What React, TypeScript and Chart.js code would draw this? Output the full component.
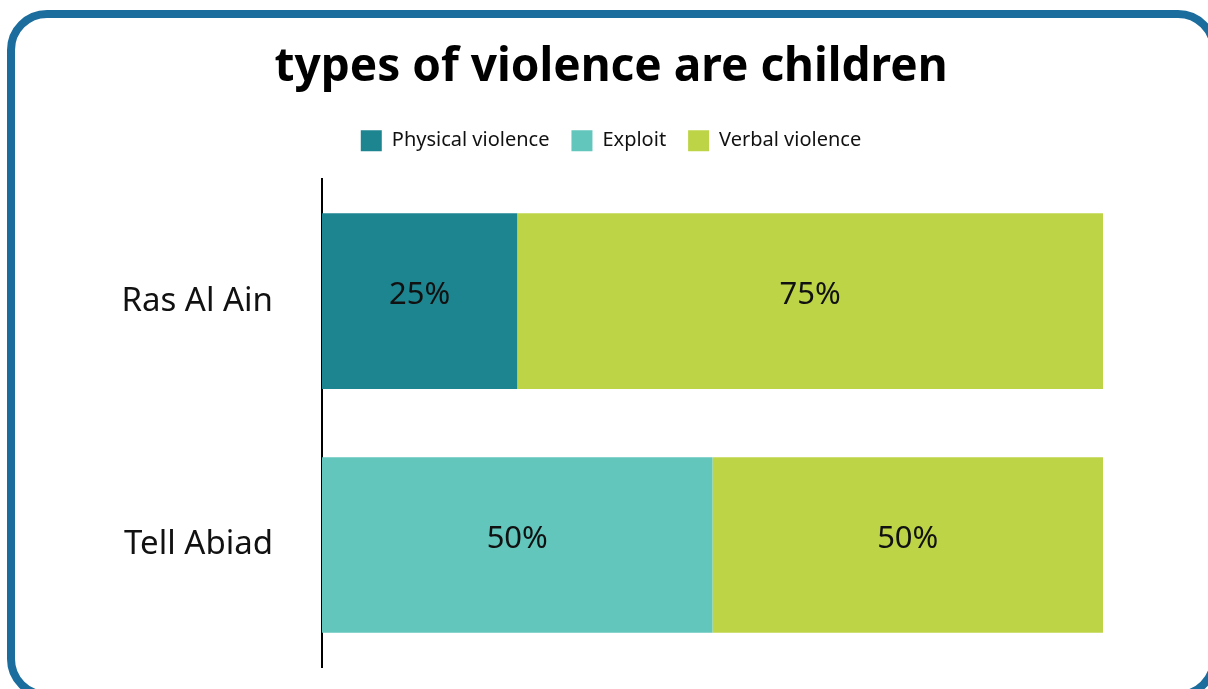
import React, { useEffect, useRef } from "react";
import { Chart, registerables } from "chart.js";

Chart.register(...registerables);

const categories = ["Ras Al Ain", "Tell Abiad"];
const seriesNames = ["Physical violence", "Exploit", "Verbal violence"];
const physical = [25, 0];
const exploit = [0, 50];
const verbal = [75, 50];
const colors = ["#1d8590", "#62c6bd", "#bed447"];
const titleText = "types of violence are children";
const FONT = "'Noto Sans', sans-serif";

const labelPlugin = {
  id: "barLabels",
  afterDatasetsDraw(chart: any) {
    const ctx = chart.ctx;
    ctx.save();
    ctx.font = `31px ${FONT}`;
    ctx.fillStyle = "#111";
    ctx.textAlign = "center";
    ctx.textBaseline = "middle";
    chart.data.datasets.forEach((ds: any, i: number) => {
      const meta = chart.getDatasetMeta(i);
      meta.data.forEach((el: any, j: number) => {
        const v = ds.data[j];
        if (!v) return;
        ctx.fillText(v + "%", (el.x + el.base) / 2, el.y - 6);
      });
    });
    ctx.restore();
  },
};

const legendSpacer = {
  id: "legendSpacer",
  beforeInit(chart: any) {
    const lg = chart.legend;
    if (!lg) return;
    const orig = lg.fit;
    lg.fit = function () {
      orig.call(this);
      this.height += 18;
    };
  },
};

export default function App() {
  const ref = useRef<HTMLCanvasElement>(null);
  useEffect(() => {
    const chart = new Chart(ref.current!, {
      type: "bar",
      data: {
        labels: categories,
        datasets: [
          { label: seriesNames[0], data: physical, backgroundColor: colors[0] },
          { label: seriesNames[1], data: exploit, backgroundColor: colors[1] },
          { label: seriesNames[2], data: verbal, backgroundColor: colors[2] },
        ],
      },
      options: {
        indexAxis: "y",
        animation: false,
        responsive: false,
        maintainAspectRatio: false,
        layout: { padding: { left: 119, right: 105, bottom: 22, top: 0 } },
        datasets: { bar: { barPercentage: 0.9, categoryPercentage: 0.8, borderWidth: 0 } },
        scales: {
          x: { stacked: true, min: 0, max: 100, display: false },
          y: {
            stacked: true,
            grid: { display: false, drawTicks: false },
            border: { display: true, color: "#000", width: 2 },
            ticks: { color: "#111", font: { family: FONT, size: 33 }, padding: 49 },
            afterFit(scale: any) {
              scale.width = 203;
              scale.paddingTop = 0;
              scale.paddingBottom = 0;
            },
          },
        },
        plugins: {
          title: {
            display: true,
            text: titleText,
            color: "#000",
            font: { family: FONT, size: 46, weight: "bold" },
            padding: { top: 40, bottom: 13 },
          },
          legend: {
            display: true,
            labels: {
              color: "#111",
              font: { family: FONT, size: 20 },
              boxWidth: 21,
              boxHeight: 21,
              padding: 22,
            },
          },
          tooltip: { enabled: false },
        },
      },
      plugins: [labelPlugin, legendSpacer],
    });
    return () => chart.destroy();
  }, []);
  return (
    <div style={{ position: "fixed", left: 0, top: 0, width: 1208, height: 689, background: "#fff", overflow: "hidden" }}>
      <div
        style={{
          position: "absolute",
          left: 7,
          top: 10,
          width: 1211,
          height: 689,
          border: "8px solid #1b6d9e",
          borderRadius: 40,
          boxSizing: "border-box",
        }}
      />
      <canvas ref={ref} width={1208} height={689} style={{ position: "absolute", left: 0, top: 0 }} />
    </div>
  );
}
